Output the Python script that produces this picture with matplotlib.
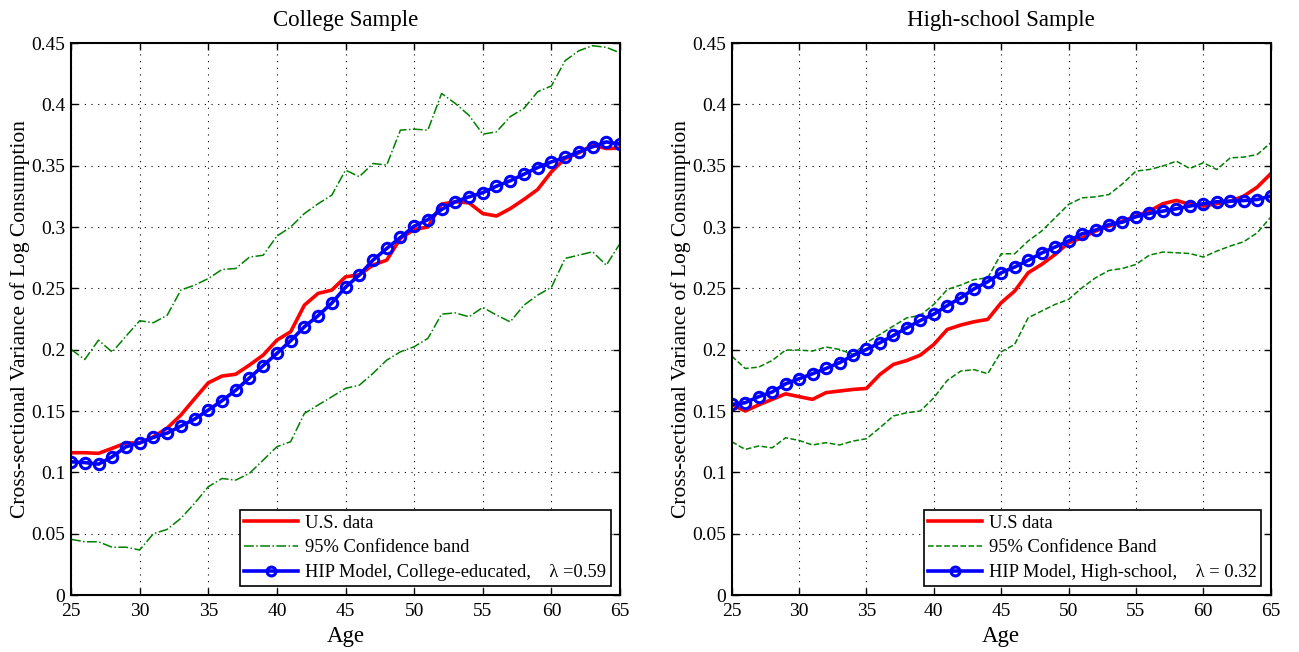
import numpy as np
import matplotlib
matplotlib.use('Agg')
import matplotlib.pyplot as plt

plt.rcParams['font.family'] = ['Liberation Serif', 'DejaVu Serif']

age = np.arange(25, 66)

# college sample
col_data = [0.116, 0.116, 0.1155, 0.1196, 0.124, 0.124, 0.129, 0.136, 0.1467, 0.160,
            0.173, 0.1785, 0.180, 0.1875, 0.1956, 0.2078, 0.2146, 0.2363, 0.2459, 0.2486,
            0.2594, 0.261, 0.269, 0.273, 0.2907, 0.298, 0.300, 0.3187, 0.3206, 0.3197,
            0.311, 0.309, 0.315, 0.3225, 0.3306, 0.345, 0.3559, 0.3605, 0.3668, 0.364, 0.3643]
col_up = [0.2002, 0.192, 0.2078, 0.198, 0.211, 0.2236, 0.222, 0.228, 0.2486, 0.2526,
          0.258, 0.2654, 0.2662, 0.2755, 0.277, 0.2926, 0.300, 0.311, 0.319, 0.326,
          0.3464, 0.341, 0.3518, 0.3505, 0.379, 0.3798, 0.379, 0.4089, 0.4007, 0.391,
          0.3757, 0.3776, 0.390, 0.3967, 0.4103, 0.415, 0.4356, 0.4437, 0.4478, 0.4465, 0.442]
col_lo = [0.0454, 0.0434, 0.0434, 0.0389, 0.039, 0.0367, 0.050, 0.0535, 0.0625, 0.0747,
          0.0883, 0.095, 0.0937, 0.0992, 0.110, 0.1209, 0.125, 0.148, 0.1549, 0.1616,
          0.1685, 0.171, 0.1807, 0.1915, 0.1983, 0.2024, 0.2092, 0.229, 0.230, 0.2268,
          0.2345, 0.2282, 0.2227, 0.2363, 0.2445, 0.2508, 0.2744, 0.2771, 0.2798, 0.2689, 0.2866]
col_model = [0.1086, 0.108, 0.1067, 0.1127, 0.1209, 0.124, 0.1285, 0.132, 0.1377, 0.1434,
             0.1508, 0.1584, 0.167, 0.177, 0.187, 0.197, 0.2073, 0.2187, 0.2277, 0.238,
             0.251, 0.2608, 0.273, 0.2825, 0.2915, 0.3007, 0.306, 0.3143, 0.3206, 0.3246,
             0.328, 0.3333, 0.3377, 0.3431, 0.3485, 0.3531, 0.3567, 0.3613, 0.3654, 0.3694, 0.3676]

# high-school sample
hs_data = [0.1554, 0.150, 0.155, 0.1595, 0.164, 0.1617, 0.1595, 0.165, 0.1663, 0.1676,
           0.1684, 0.1798, 0.188, 0.1912, 0.1956, 0.2043, 0.2165, 0.2201, 0.2228, 0.2247,
           0.2383, 0.2478, 0.2627, 0.2695, 0.2776, 0.2872, 0.2912, 0.2967, 0.3008, 0.3049,
           0.3089, 0.313, 0.319, 0.3217, 0.3184, 0.3171, 0.319, 0.321, 0.3252, 0.3325, 0.3434]
hs_up = [0.1948, 0.1847, 0.1858, 0.1912, 0.1997, 0.1997, 0.1989, 0.2022, 0.2002, 0.1961,
         0.2057, 0.2124, 0.2193, 0.226, 0.228, 0.2369, 0.2491, 0.2527, 0.2572, 0.2586,
         0.2782, 0.2782, 0.2886, 0.2967, 0.3075, 0.3184, 0.3238, 0.3246, 0.3265, 0.3352,
         0.3456, 0.3469, 0.3497, 0.3537, 0.3477, 0.3524, 0.3469, 0.3564, 0.357, 0.3591, 0.3686]
hs_lo = [0.125, 0.1187, 0.1215, 0.120, 0.1282, 0.126, 0.1223, 0.1242, 0.1223, 0.1255,
         0.1274, 0.1364, 0.146, 0.1486, 0.150, 0.1608, 0.175, 0.1826, 0.1837, 0.1804,
         0.1983, 0.2043, 0.226, 0.2315, 0.2369, 0.241, 0.2505, 0.2586, 0.2646, 0.2662,
         0.2695, 0.2771, 0.2796, 0.279, 0.2784, 0.2755, 0.2804, 0.2845, 0.288, 0.2953, 0.308]
hs_model = [0.1554, 0.1568, 0.1617, 0.1655, 0.1722, 0.1763, 0.1804, 0.1847, 0.1894, 0.1953,
            0.2002, 0.2057, 0.2116, 0.2179, 0.2238, 0.229, 0.236, 0.2423, 0.2497, 0.2554,
            0.2627, 0.2674, 0.2728, 0.2788, 0.2837, 0.2886, 0.2945, 0.2975, 0.302, 0.304,
            0.3084, 0.3111, 0.313, 0.3149, 0.3171, 0.319, 0.3206, 0.3211, 0.3216, 0.3224, 0.3252]

panels = [
    ('College Sample', col_data, col_up, col_lo, col_model, '-.',
     ['U.S. data', '95% Confidence band', 'HIP Model, College-educated,    λ =0.59']),
    ('High-school Sample', hs_data, hs_up, hs_lo, hs_model, '--',
     ['U.S data', '95% Confidence Band', 'HIP Model, High-school,    λ = 0.32']),
]

fig = plt.figure(figsize=(12.99, 6.52), dpi=100)
rects = [[0.0547, 0.0874, 0.4226, 0.8466], [0.5633, 0.0874, 0.4149, 0.8466]]
green = (0, 0.5, 0)

for rect, (title, dat, up, lo, mod, ls, labs) in zip(rects, panels):
    ax = fig.add_axes(rect)
    ax.plot(age, dat, color='red', lw=2.6, label=labs[0])
    ax.plot(age, up, color=green, lw=1.1, ls=ls, label=labs[1])
    ax.plot(age, lo, color=green, lw=1.1, ls=ls, label='_nolegend_')
    ax.plot(age, mod, color='blue', lw=2.6, marker='o', ms=7.5, mfc='none', mew=2.2,
            label=labs[2])
    ax.set_xlim(25, 65)
    ax.set_ylim(0, 0.45)
    ax.set_xticks(np.arange(25, 66, 5))
    ax.set_yticks(np.arange(0, 0.451, 0.05))
    ax.set_yticklabels(['0', '0.05', '0.1', '0.15', '0.2', '0.25', '0.3', '0.35', '0.4', '0.45'])
    ax.grid(True, ls=(0, (1, 5)), color='black', lw=0.8)
    ax.tick_params(direction='in', top=True, right=True, labelsize=14, length=5, width=1)
    ax.tick_params(axis='x', pad=6)
    ax.tick_params(axis='y', pad=4)
    for s in ax.spines.values():
        s.set_linewidth(1.5)
    ax.set_title(title, fontsize=16.5, pad=12.5)
    ax.set_xlabel('Age', fontsize=16.5, labelpad=4)
    ax.set_ylabel('Cross-sectional Variance of Log Consumption', fontsize=15.5, labelpad=1)
    leg = ax.legend(loc='lower right', fontsize=13.3, handlelength=2.9, fancybox=False,
                    framealpha=1, edgecolor='black', borderaxespad=0.5, labelspacing=0.42,
                    borderpad=0.25, handletextpad=0.4, markerscale=0.85)
    leg.get_frame().set_linewidth(1.2)

fig.savefig('out.png', dpi=100)
